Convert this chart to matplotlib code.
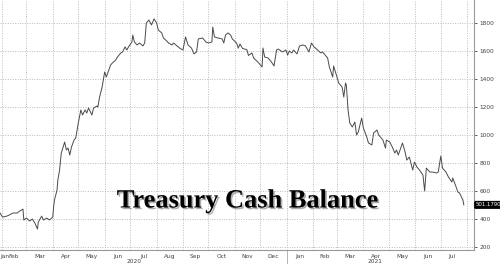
import matplotlib
matplotlib.use("Agg")
import matplotlib.pyplot as plt
import matplotlib.dates as mdates
import matplotlib.patheffects as pe
import matplotlib.transforms as mtransforms
import pandas as pd

# values (USD bn)
dates = [
    "2020-01-30", "2020-02-02", "2020-02-07", "2020-02-10", "2020-02-14", "2020-02-19",
    "2020-02-22", "2020-02-26", "2020-02-27", "2020-03-01", "2020-03-05", "2020-03-08",
    "2020-03-11", "2020-03-14", "2020-03-15", "2020-03-19", "2020-03-21", "2020-03-25",
    "2020-03-28", "2020-04-01", "2020-04-02", "2020-04-03", "2020-04-06", "2020-04-07",
    "2020-04-09", "2020-04-11", "2020-04-15", "2020-04-17", "2020-04-19", "2020-04-21",
    "2020-04-23", "2020-04-26", "2020-04-28", "2020-04-29", "2020-05-01", "2020-05-04",
    "2020-05-06", "2020-05-09", "2020-05-11", "2020-05-13", "2020-05-17", "2020-05-19",
    "2020-05-23", "2020-05-24", "2020-05-26", "2020-05-29", "2020-05-30", "2020-06-01",
    "2020-06-03", "2020-06-05", "2020-06-08", "2020-06-10", "2020-06-14", "2020-06-16",
    "2020-06-20", "2020-06-22", "2020-06-25", "2020-06-27", "2020-06-29", "2020-07-03",
    "2020-07-04", "2020-07-06", "2020-07-09", "2020-07-12", "2020-07-16", "2020-07-18",
    "2020-07-20", "2020-07-23", "2020-07-26", "2020-07-29", "2020-08-01", "2020-08-03",
    "2020-08-07", "2020-08-09", "2020-08-13", "2020-08-15", "2020-08-19", "2020-08-21",
    "2020-08-25", "2020-08-28", "2020-09-01", "2020-09-04", "2020-09-07", "2020-09-11",
    "2020-09-14", "2020-09-17", "2020-09-19", "2020-09-24", "2020-09-28", "2020-10-01",
    "2020-10-05", "2020-10-06", "2020-10-08", "2020-10-12", "2020-10-17", "2020-10-19",
    "2020-10-21", "2020-10-24", "2020-10-27", "2020-10-29", "2020-11-03", "2020-11-05",
    "2020-11-07", "2020-11-10", "2020-11-15", "2020-11-17", "2020-11-21", "2020-11-23",
    "2020-11-28", "2020-12-03", "2020-12-04", "2020-12-06", "2020-12-10", "2020-12-14",
    "2020-12-17", "2020-12-20", "2020-12-22", "2020-12-27", "2020-12-31", "2021-01-02",
    "2021-01-04", "2021-01-07", "2021-01-09", "2021-01-13", "2021-01-16", "2021-01-20",
    "2021-01-23", "2021-01-27", "2021-01-30", "2021-02-02", "2021-02-05", "2021-02-10",
    "2021-02-12", "2021-02-16", "2021-02-18", "2021-02-20", "2021-02-24", "2021-02-25",
    "2021-03-01", "2021-03-03", "2021-03-07", "2021-03-09", "2021-03-11", "2021-03-12",
    "2021-03-14", "2021-03-16", "2021-03-19", "2021-03-22", "2021-03-24", "2021-03-26",
    "2021-03-30", "2021-04-01", "2021-04-05", "2021-04-07", "2021-04-11", "2021-04-13",
    "2021-04-17", "2021-04-19", "2021-04-24", "2021-04-27", "2021-04-28", "2021-05-02",
    "2021-05-05", "2021-05-08", "2021-05-10", "2021-05-12", "2021-05-17", "2021-05-20",
    "2021-05-22", "2021-05-25", "2021-05-29", "2021-05-31", "2021-06-03", "2021-06-06",
    "2021-06-10", "2021-06-12", "2021-06-14", "2021-06-18", "2021-06-21", "2021-06-26",
    "2021-06-28", "2021-07-01", "2021-07-03", "2021-07-07", "2021-07-10", "2021-07-14",
    "2021-07-15", "2021-07-19", "2021-07-21", "2021-07-23", "2021-07-27", "2021-07-28",
]
balance = [
    443, 414, 421, 429, 443, 443,
    457, 471, 393, 407, 386, 400,
    371, 329, 379, 421, 393, 407,
    393, 414, 486, 536, 607, 679,
    750, 871, 950, 893, 907, 857,
    914, 964, 979, 1014, 1086, 1179,
    1143, 1179, 1157, 1193, 1143, 1193,
    1207, 1200, 1271, 1343, 1379, 1450,
    1414, 1450, 1500, 1514, 1536, 1557,
    1586, 1593, 1629, 1607, 1629, 1664,
    1714, 1664, 1643, 1657, 1636, 1657,
    1800, 1821, 1786, 1829, 1800, 1750,
    1729, 1693, 1671, 1657, 1643, 1657,
    1636, 1621, 1607, 1700, 1643, 1621,
    1579, 1593, 1686, 1693, 1664, 1657,
    1664, 1771, 1700, 1693, 1686, 1657,
    1714, 1729, 1714, 1686, 1657, 1620,
    1650, 1618, 1610, 1568, 1586, 1550,
    1521, 1486, 1621, 1557, 1550, 1521,
    1493, 1607, 1614, 1593, 1607, 1571,
    1600, 1586, 1607, 1579, 1636, 1643,
    1636, 1593, 1657, 1629, 1614, 1586,
    1593, 1564, 1550, 1486, 1414, 1493,
    1414, 1371, 1343, 1271, 1371, 1357,
    1179, 1086, 1057, 1093, 1000, 1021,
    1121, 1050, 986, 943, 929, 1014,
    1036, 1000, 964, 907, 964, 950,
    914, 871, 893, 857, 943, 879,
    821, 843, 750, 807, 771, 750,
    714, 600, 764, 736, 736, 729,
    736, 850, 764, 736, 700, 664,
    693, 629, 593, 586, 536, 501.179,
]
month_labels = ["Jan", "Feb", "Mar", "Apr", "May", "Jun", "Jul", "Aug", "Sep", "Oct",
                "Nov", "Dec", "Jan", "Feb", "Mar", "Apr", "May", "Jun", "Jul"]
yticks = [200, 400, 600, 800, 1000, 1200, 1400, 1600, 1800]
title = "Treasury Cash Balance"
last_label = "501.1790"

x = pd.to_datetime(dates)
x_start = pd.Timestamp("2020-01-30")
x_end = pd.Timestamp("2021-08-09")

fig = plt.figure(figsize=(5, 2.64), dpi=100)
ax = fig.add_axes([0, 0.053, 0.948, 0.947])

ax.plot(x, balance, color="#4a4a4a", lw=0.7)
ax.set_xlim(x_start, x_end)
ax.set_ylim(179, 1964)

# y axis on the right
ax.yaxis.tick_right()
ax.set_yticks(yticks)
ax.tick_params(axis="y", labelsize=4.2, length=2, width=0.6, colors="#444444", pad=2)
ax.tick_params(axis="x", length=0, labelbottom=False)
for s in ["top", "left"]:
    ax.spines[s].set_visible(False)
ax.spines["right"].set_color("#999999")
ax.spines["bottom"].set_color("#999999")

# gridlines at month starts
ax.xaxis.set_major_locator(mdates.MonthLocator())
ax.grid(True, color="#bbbbbb", ls=(0, (1, 1.5)), lw=0.7)

# month labels centered on visible part of each month
trans = mtransforms.blended_transform_factory(ax.transData, fig.transFigure)
last_date = x[-1]
months = pd.date_range("2020-01-01", "2021-07-01", freq="MS")
for m, lab in zip(months, month_labels):
    lo = max(m, x_start)
    hi = min(m + pd.offsets.MonthBegin(1), last_date)
    mid = lo + (hi - lo) / 2
    if m == months[0]:
        ax.text(x_start, 0.03, lab, transform=trans, ha="left", va="center",
                fontsize=4.2, color="#444444")
    else:
        ax.text(mid, 0.03, lab, transform=trans, ha="center", va="center",
                fontsize=4.2, color="#444444")

ax.text(pd.Timestamp("2020-07-05"), 0.01, "2020", transform=trans, ha="center",
        va="center", fontsize=4.2, color="#444444")
ax.text(pd.Timestamp("2021-04-15"), 0.01, "2021", transform=trans, ha="center",
        va="center", fontsize=4.2, color="#444444")
ax.plot([pd.Timestamp("2021-01-01")] * 2, [0.0, 0.053], transform=trans,
        color="#aaaaaa", lw=0.6, clip_on=False)

# last value tag
ax.annotate(last_label, xy=(1.0, balance[-1]), xycoords=("axes fraction", "data"),
            xytext=(1.2, 0), textcoords="offset points", ha="left", va="center",
            fontsize=3.9, color="white",
            bbox=dict(boxstyle="round,pad=0.15", fc="black", ec="black"))

# big title over the chart
ax.text(0.522, 0.196, title, transform=ax.transAxes, ha="center", va="center",
        fontsize=19, fontweight="bold", family="Liberation Serif", color="black",
        path_effects=[pe.withSimplePatchShadow(offset=(1.2, -1.2), shadow_rgbFace="#777777", alpha=0.6)])

fig.savefig("out.png", dpi=100)
